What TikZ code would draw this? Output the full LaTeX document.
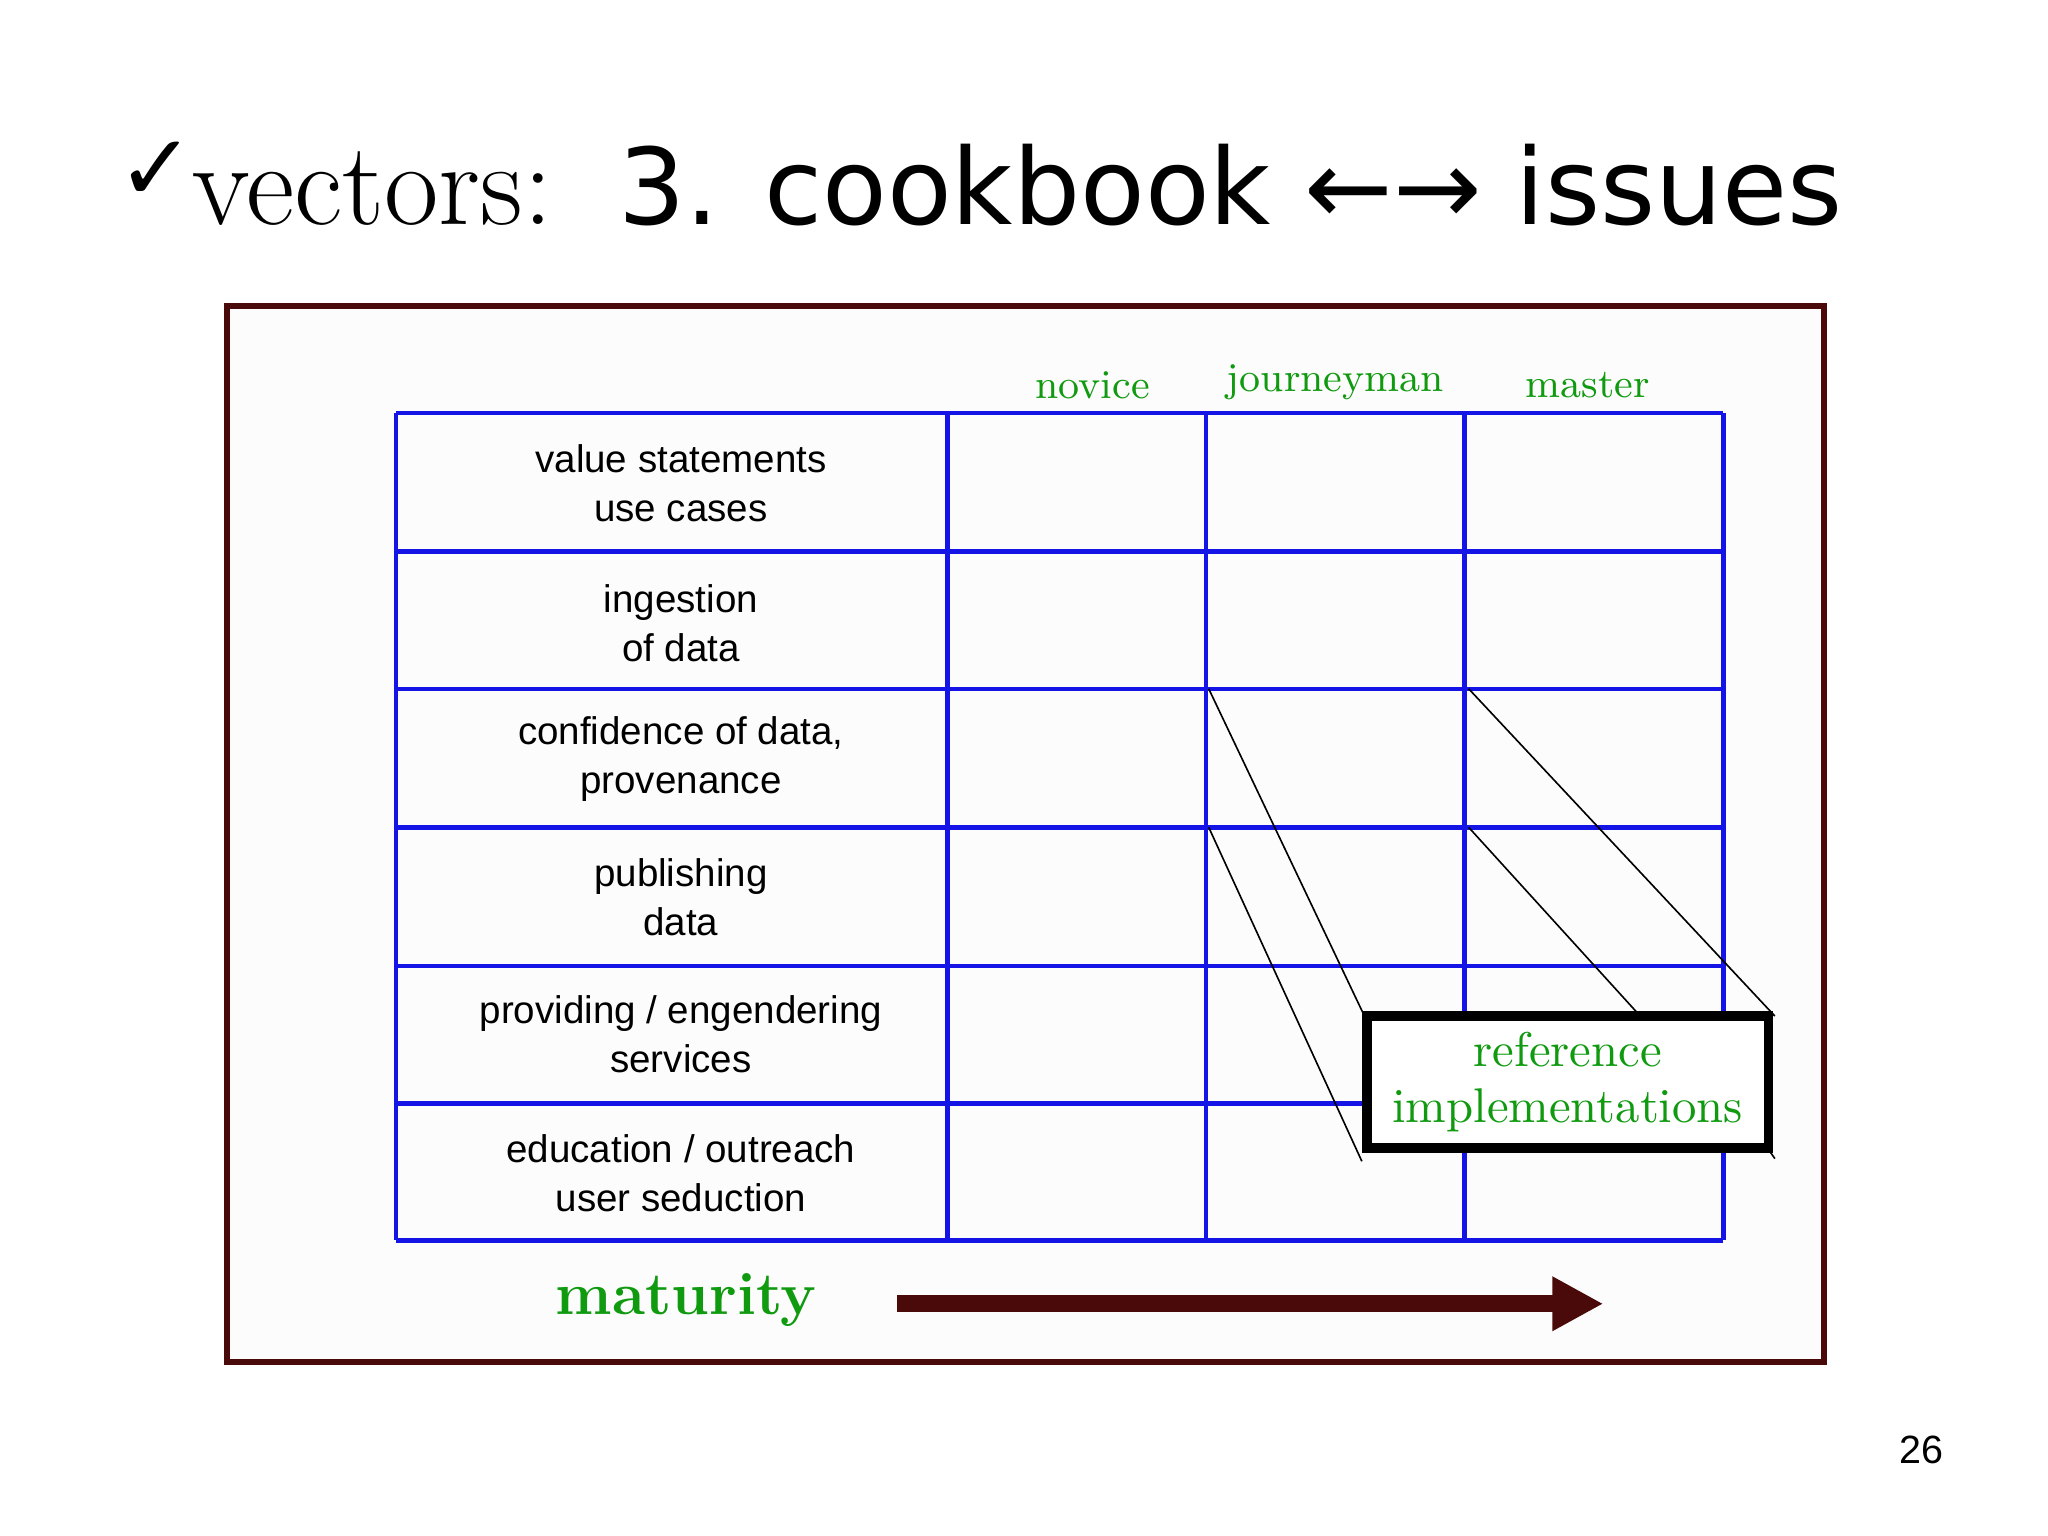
\documentclass[tikz,border=0pt]{standalone}
\usepackage{fontspec}
\setsansfont{Liberation Sans}
\newfontfamily\dvs{DejaVu Sans}
\usetikzlibrary{arrows.meta}
\definecolor{brn}{HTML}{4A0A0A}
\definecolor{grn}{HTML}{109A10}
\definecolor{tblue}{HTML}{1414E6}
\begin{document}
\begin{tikzpicture}[x=0.01cm,y=-0.01cm,
 rowlab/.style={font=\sffamily\fontsize{8.3}{10.6}\selectfont,align=center},
 hdr/.style={text=grn,font=\fontsize{8.8}{10}\selectfont},
 thin/.style={line width=0.35pt}]
\useasboundingbox (0,0) rectangle (1552,1164);
\fill[white] (0,0) rectangle (1552,1164);
% title
\node[anchor=base west,inner sep=0] (chk) at (88,152) {\dvs\fontsize{20}{20}\selectfont ✓};
\node[anchor=base west,inner sep=0] (vec) at (145,170) {\fontsize{25.5}{26}\selectfont vectors:};
\node[anchor=base west,inner sep=0] (ttl) at (468,170) {\dvs\fontsize{22.8}{26}\selectfont 3. cookbook ←→ issues};
% frame
\draw[brn,line width=1.3pt,fill=black!1] (172,232) rectangle (1382,1032);
% headers
\node[hdr] (h1) at (828,292) {novice};
\node[hdr] (h2) at (1012,290) {journeyman};
\node[hdr] (h3) at (1203,292) {master};
% table
\foreach \x in {300,718,914,1110,1306} \draw[tblue,line width=1pt] (\x,313) -- (\x,940);
\foreach \y in {313,418,522,627,732,836,940} \draw[tblue,line width=1pt] (300,\y) -- (1306,\y);
\node[rowlab] (r1) at (516,366) {value statements\\use cases};
\node[rowlab] (r2) at (516,472) {ingestion\\of data};
\node[rowlab] (r3) at (516,575) {confidence of data,\\provenance};
\node[rowlab] (r4) at (516,680) {publishing\\data};
\node[rowlab] (r5) at (516,784) {providing / engendering\\services};
\node[rowlab] (r6) at (516,889) {education / outreach\\user seduction};
% callout lines
\coordinate (a1) at (916,522); \coordinate (a2) at (1113,522);
\coordinate (a3) at (916,627); \coordinate (a4) at (1113,627);
\draw[thin] (a1) -- (1034,770);
\draw[thin] (a2) -- (1345,770);
\draw[thin] (a3) -- (1032,880);
\draw[thin] (a4) -- (1243,770);
\draw[thin] (1338,868) -- (1345,878);
\node[draw=black,line width=2pt,fill=white,minimum width=3.04cm,minimum height=1.0cm,inner sep=0,
  text=grn,align=center,font=\fontsize{10.5}{12}\selectfont] (ref) at (1188,820) {reference\\implementations};
% maturity
\node[text=grn,font=\bfseries\fontsize{13}{14}\selectfont] (mat) at (520,985) {maturity};
\coordinate (m1) at (680,988); \coordinate (m2) at (1215,988);
\draw[brn,line width=3.6pt,-{Triangle[length=11pt,width=11pt]}] (m1) -- (m2);
\node[font=\sffamily\fontsize{8.5}{10}\selectfont] (pg) at (1456,1099) {26};
\end{tikzpicture}
\end{document}
